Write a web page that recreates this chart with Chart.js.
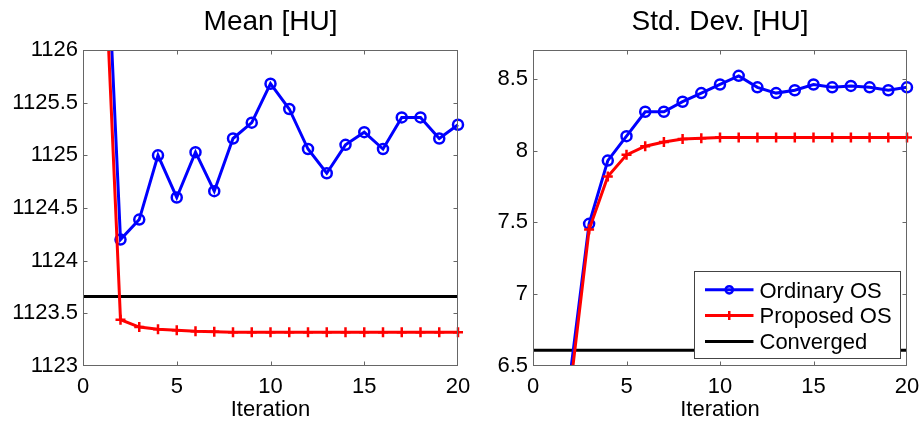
<!DOCTYPE html>
<html>
<head>
<meta charset="utf-8">
<script src="https://cdn.jsdelivr.net/npm/chart.js@4"></script>
<style>
html,body{margin:0;padding:0;background:#fff;}
#wrap{position:relative;width:924px;height:426px;overflow:hidden;background:#fff;}
canvas{position:absolute;top:0;}
</style>
</head>
<body>
<div id="wrap">
<canvas id="c1" width="475" height="426" style="left:0px;width:475px;height:426px"></canvas>
<canvas id="c2" width="459" height="426" style="left:465px;width:459px;height:426px"></canvas>
</div>
<script>
// ---- data ----
const iterations = [1,2,3,4,5,6,7,8,9,10,11,12,13,14,15,16,17,18,19,20];
const iterTicks = [0,5,10,15,20];

const meanOrdinary = [1128.1,1124.20,1124.39,1125.00,1124.60,1125.03,1124.66,1125.16,1125.31,1125.68,1125.44,1125.06,1124.83,1125.10,1125.22,1125.06,1125.36,1125.36,1125.16,1125.29];
const meanProposed = [1127.5,1123.44,1123.37,1123.35,1123.34,1123.33,1123.325,1123.32,1123.32,1123.32,1123.32,1123.32,1123.32,1123.32,1123.32,1123.32,1123.32,1123.32,1123.32,1123.32];
const meanConverged = 1123.66;
const meanTicks = [1123,1123.5,1124,1124.5,1125,1125.5,1126];

const stdOrdinary = [5.4,6.45,7.49,7.93,8.10,8.27,8.27,8.34,8.40,8.46,8.52,8.44,8.40,8.42,8.46,8.44,8.45,8.44,8.42,8.44];
const stdProposed = [5.3,6.35,7.45,7.82,7.97,8.03,8.06,8.08,8.085,8.09,8.09,8.09,8.09,8.09,8.09,8.09,8.09,8.09,8.09,8.09];
const stdConverged = 6.61;
const stdTicks = [6.5,7,7.5,8,8.5];

const legendLabels = ['Ordinary OS','Proposed OS','Converged'];
const titles = ['Mean [HU]','Std. Dev. [HU]'];
const xTitle = 'Iteration';

// ---- styling ----
const FAMILY = '"Liberation Sans", Arial, Helvetica, sans-serif';
const BLUE = '#0000ff', RED = '#ff0000', BLACK = '#000000', FRAME = '#666666';

function pts(ys){ return iterations.map((x,i)=>({x:x, y:ys[i]})); }
function flat(v){ return [{x:iterTicks[0], y:v},{x:iterTicks[iterTicks.length-1], y:v}]; }

function framePlugin(yTicks){
  return {
    id:'frameTicks',
    afterDatasetsDraw(chart){
      const ctx = chart.ctx, a = chart.chartArea, xs = chart.scales.x, ys = chart.scales.y;
      ctx.save();
      ctx.strokeStyle = FRAME; ctx.lineWidth = 1;
      const L = Math.round(a.left)+0.5, R = Math.round(a.right)-0.5, T = Math.round(a.top)+0.5, B = Math.round(a.bottom)-0.5;
      ctx.strokeRect(L, T, R-L, B-T);
      ctx.beginPath();
      iterTicks.forEach(v=>{
        const p = Math.round(xs.getPixelForValue(v))+0.5;
        if (p <= L+1 || p >= R-1) return;
        ctx.moveTo(p,B); ctx.lineTo(p,B-4);
        ctx.moveTo(p,T); ctx.lineTo(p,T+4);
      });
      yTicks.forEach(v=>{
        const p = Math.round(ys.getPixelForValue(v))+0.5;
        if (p <= T+1 || p >= B-1) return;
        ctx.moveTo(L,p); ctx.lineTo(L+4,p);
        ctx.moveTo(R,p); ctx.lineTo(R-4,p);
      });
      ctx.stroke();
      ctx.restore();
    }
  };
}

function titlePlugin(text){
  return {
    id:'panelTitle',
    afterDraw(chart){
      const ctx = chart.ctx, a = chart.chartArea;
      ctx.save();
      ctx.fillStyle = BLACK;
      ctx.font = '28px ' + FAMILY;
      ctx.textAlign = 'center';
      ctx.textBaseline = 'alphabetic';
      ctx.fillText(text, (a.left+a.right)/2, 30);
      ctx.restore();
    }
  };
}

const legendPlugin = {
  id:'boxLegend',
  afterDraw(chart){
    const ctx = chart.ctx, a = chart.chartArea;
    const w = 206, h = 87;
    const left = Math.round(a.right - 7 - w)+0.5, top = Math.round(a.bottom - 8 - h)+0.5;
    ctx.save();
    ctx.fillStyle = '#ffffff';
    ctx.fillRect(left, top, w, h);
    ctx.strokeStyle = '#444'; ctx.lineWidth = 1;
    ctx.strokeRect(left, top, w, h);
    const rows = [18.3, 44, 70];
    const colors = [BLUE, RED, BLACK];
    rows.forEach((dy,i)=>{
      const y = top + dy;
      const x0 = left + 10.5, x1 = left + 59, xm = (x0+x1)/2;
      ctx.strokeStyle = colors[i]; ctx.lineWidth = 3;
      ctx.beginPath(); ctx.moveTo(x0,y); ctx.lineTo(x1,y); ctx.stroke();
      ctx.lineWidth = 2.5;
      if (i === 0){ ctx.beginPath(); ctx.arc(xm, y, 3.6, 0, Math.PI*2); ctx.stroke(); }
      if (i === 1){ ctx.beginPath(); ctx.moveTo(xm, y-4.5); ctx.lineTo(xm, y+4.5); ctx.moveTo(xm-4.5,y); ctx.lineTo(xm+4.5,y); ctx.stroke(); }
      ctx.fillStyle = BLACK;
      ctx.font = '22px ' + FAMILY;
      ctx.textAlign = 'left'; ctx.textBaseline = 'alphabetic';
      ctx.fillText(legendLabels[i], left + 65, y + 7.8);
    });
    ctx.restore();
  }
};

function makeChart(id, cfg){
  const lineClip = {left:10, right:10, top:0, bottom:0};
  const plugins = [framePlugin(cfg.yTicks), titlePlugin(cfg.title)];
  if (cfg.legend) plugins.push(legendPlugin);
  return new Chart(document.getElementById(id), {
    type:'line',
    data:{datasets:[
      {label:legendLabels[1], data:pts(cfg.prop), borderColor:RED, backgroundColor:RED, borderWidth:3,
       pointStyle:'cross', pointRadius:5, pointBorderWidth:2.5, pointBorderColor:RED, pointBackgroundColor:RED,
       tension:0, fill:false, order:0, clip:lineClip},
      {label:legendLabels[0], data:pts(cfg.ord), borderColor:BLUE, backgroundColor:BLUE, borderWidth:3,
       pointStyle:'circle', pointRadius:5, pointBorderWidth:2.5, pointBorderColor:BLUE, pointBackgroundColor:'rgba(0,0,0,0)',
       tension:0, fill:false, order:1, clip:lineClip},
      {label:legendLabels[2], data:flat(cfg.conv), borderColor:BLACK, borderWidth:3, pointRadius:0,
       tension:0, fill:false, order:2, clip:0}
    ]},
    options:{
      responsive:false, maintainAspectRatio:false, animation:false, devicePixelRatio:1,
      events:[],
      layout:{padding:{left:0, right:cfg.padRight, top:50, bottom:0}},
      plugins:{legend:{display:false}, tooltip:{enabled:false}, title:{display:false}},
      scales:{
        x:{type:'linear', min:0, max:20,
           grid:{display:false, drawTicks:false, tickLength:0}, border:{display:false},
           ticks:{font:{family:FAMILY, size:22}, color:BLACK, padding:8, maxRotation:0, autoSkip:false},
           afterBuildTicks:(s)=>{ s.ticks = iterTicks.map(v=>({value:v})); },
           afterFit:(s)=>{ s.height = 60; s.paddingLeft = 0; s.paddingRight = 0; },
           title:{display:true, text:xTitle, font:{family:FAMILY, size:22}, color:BLACK, padding:{top:0, bottom:3}}
        },
        y:{type:'linear', min:cfg.yMin, max:cfg.yMax,
           grid:{display:false, drawTicks:false, tickLength:0}, border:{display:false},
           ticks:{font:{family:FAMILY, size:22}, color:BLACK, padding:5, autoSkip:false, callback:(v)=>String(v)},
           afterBuildTicks:(s)=>{ s.ticks = cfg.yTicks.map(v=>({value:v})); },
           afterFit:(s)=>{ s.width = cfg.yWidth; s.paddingTop = 0; s.paddingBottom = 0; }
        }
      }
    },
    plugins:plugins
  });
}

makeChart('c1', {ord:meanOrdinary, prop:meanProposed, conv:meanConverged, yMin:1123, yMax:1126,
  yTicks:meanTicks, yWidth:83, padRight:17, title:titles[0], legend:false});
makeChart('c2', {ord:stdOrdinary, prop:stdProposed, conv:stdConverged, yMin:6.5, yMax:8.7,
  yTicks:stdTicks, yWidth:68, padRight:17, title:titles[1], legend:true});
</script>
</body>
</html>
